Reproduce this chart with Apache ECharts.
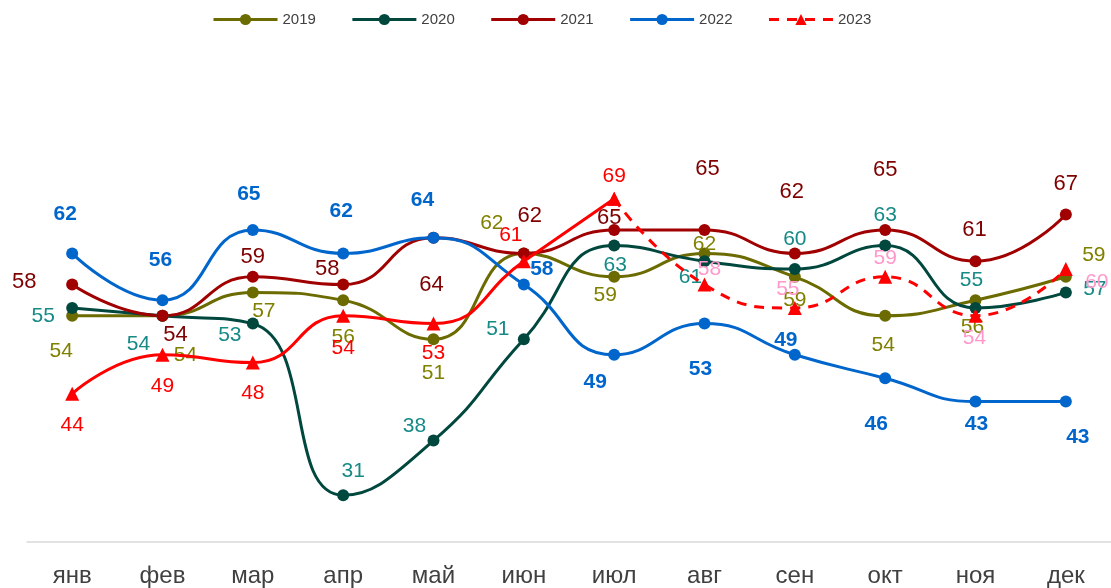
<!DOCTYPE html>
<html>
<head>
<meta charset="utf-8">
<script src="https://cdn.jsdelivr.net/npm/echarts@6/dist/echarts.min.js"></script>
<style>
  html, body { margin:0; padding:0; background:#fff; }
  #chart { width:1111px; height:588px; }
</style>
</head>
<body>
<div id="chart"></div>
<script>
var months = ['янв','фев','мар','апр','май','июн','июл','авг','сен','окт','ноя','дек'];

var y2019 = [54, 54, 57, 56, 51, 62, 59, 62, 59, 54, 56, 59];
var y2020 = [55, 54, 53, 31, 38, 51, 63, 61, 60, 63, 55, 57];
var y2021 = [58, 54, 59, 58, 64, 62, 65, 65, 62, 65, 61, 67];
var y2022 = [62, 56, 65, 62, 64, 58, 49, 53, 49, 46, 43, 43];
var y2023 = [44, 49, 48, 54, 53, 61, 69, 58, 55, 59, 54, 60];
var splitIdx = 6; // с июля 2023 пунктир

// сдвиги подписей относительно точки (как в исходной картинке)
var off2019 = [[-11,35],[23,39],[11,19],[0,37],[0,34],[-32,-30],[-9,18],[0,-9],[0,23],[-2,29],[-3,27],[28,-22]];
var off2020 = [[-29,8],[-24,28],[-23,12],[10,-24],[-19,-14],[-26,-10],[1,20],[-14,16],[0,-30],[0,-30],[-4,-28],[29,-3]];
var off2021 = [[-48,-3],[13,19],[0,-20],[-16,-16],[-2,47],[6,-37],[-5,-12],[3,-61],[-3,-61],[0,-60],[-1,-31],[0,-30]];
var off2022 = [[-7,-39],[-2,-40],[-4,-36],[-2,-42],[-11,-38],[18,-15],[-19,27],[-4,46],[-9,-15],[-9,46],[1,23],[12,36]];
var off2023 = [[0,31],[0,31],[0,31],[0,32],[0,30],[-13,-26],[0,-23],[5,-15],[-7,-19],[0,-19],[-1,22],[31,13]];

var labelFont = "'Liberation Sans', sans-serif";

function buildData(vals, offs, from, to, hideIdx) {
    var out = [];
    for (var i = 0; i < vals.length; i++) {
        if (i < from || i > to) { out.push('-'); continue; }
        out.push({
            value: vals[i],
            label: { show: i !== hideIdx, offset: offs[i] }
        });
    }
    return out;
}

function line(name, vals, offs, color, labelColor, opts) {
    opts = opts || {};
    return {
        name: name,
        type: 'line',
        smooth: 0.5,
        symbol: opts.symbol || 'circle',
        symbolSize: opts.symbolSize || 12,
        itemStyle: { color: color },
        lineStyle: { color: color, width: 3, type: opts.dash ? [10, 8] : 'solid' },
        label: {
            show: true,
            position: 'inside',
            color: labelColor,
            fontSize: opts.fontSize || 21,
            fontFamily: labelFont,
            fontWeight: opts.bold ? 'bold' : 'normal'
        },
        z: opts.z || 2,
        data: buildData(vals, offs, opts.from || 0, opts.to == null ? 11 : opts.to, opts.hide)
    };
}

var myChart = echarts.init(document.getElementById('chart'));
var option = {
    animation: false,
    backgroundColor: '#fff',
    legend: {
        top: 7,
        left: 207,
        itemWidth: 64,
        itemHeight: 14,
        itemGap: 35,
        lineStyle: { width: 3 },
        textStyle: { fontSize: 15, color: '#404040', fontFamily: labelFont },
        data: ['2019', '2020', '2021', '2022', '2023']
    },
    grid: { left: 27, right: -4, top: 113, bottom: 45 },
    xAxis: {
        type: 'category',
        data: months,
        axisLine: { lineStyle: { color: '#d9d9d9', width: 1.5 } },
        axisTick: { show: false },
        axisLabel: {
            color: '#404040',
            fontSize: 24,
            margin: 22,
            fontFamily: labelFont
        }
    },
    yAxis: {
        type: 'value',
        min: 25,
        max: 80,
        show: false,
        splitLine: { show: false }
    },
    series: [
        line('2019', y2019, off2019, '#6b6b00', '#808000'),
        line('2020', y2020, off2020, '#00473e', '#178a86'),
        line('2021', y2021, off2021, '#a00000', '#7f0000', { fontSize: 22 }),
        line('2022', y2022, off2022, '#0066cc', '#0066cc', { bold: true }),
        line('2023 ', y2023, off2023, '#ff0000', '#ff0000',
             { symbol: 'triangle', symbolSize: 14, from: 0, to: splitIdx, z: 3 }),
        line('2023', y2023, off2023, '#ff0000', '#ff99cc',
             { symbol: 'triangle', symbolSize: 14, from: splitIdx, to: 11, hide: splitIdx, dash: true, z: 3 })
    ]
};
myChart.setOption(option);
</script>
</body>
</html>
